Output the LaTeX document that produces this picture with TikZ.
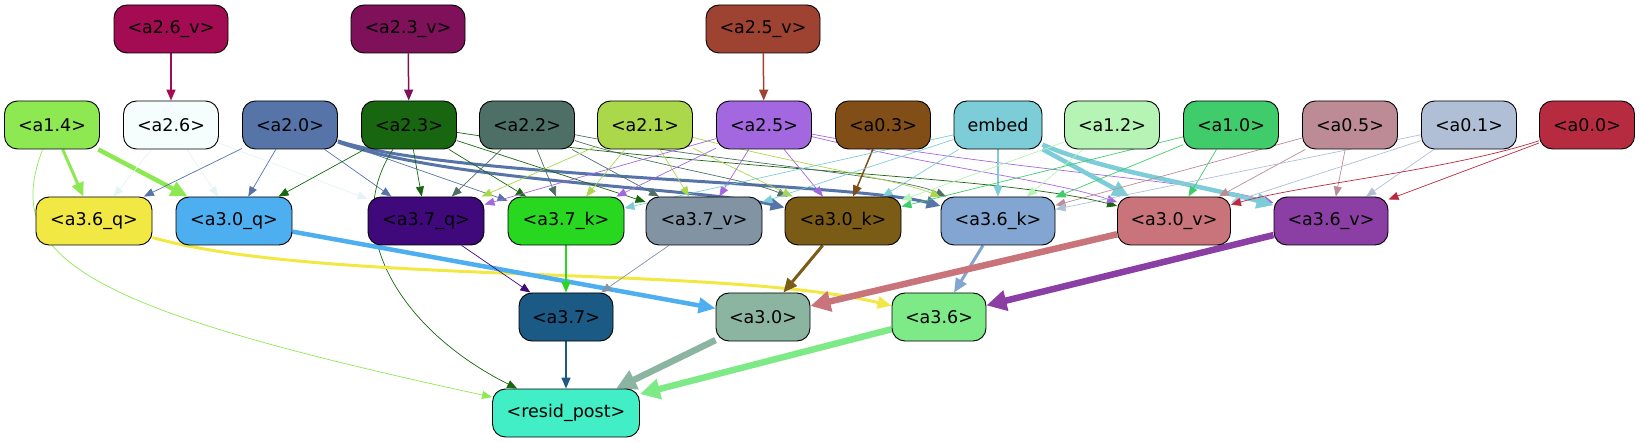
\documentclass[tikz,border=0pt]{standalone}
\usepackage{fontspec}
\setmainfont{DejaVu Sans}
\usetikzlibrary{arrows.meta,backgrounds}
\definecolor{c26v}{HTML}{A30B52}
\definecolor{c23v}{HTML}{7E1159}
\definecolor{c25v}{HTML}{9E4232}
\definecolor{c14}{HTML}{8EE851}
\definecolor{c26}{HTML}{F5FDFD}
\definecolor{c26e}{HTML}{E4F4F4}
\definecolor{c20}{HTML}{5674A8}
\definecolor{c23}{HTML}{196610}
\definecolor{c22}{HTML}{4D6F66}
\definecolor{c21}{HTML}{ABD74A}
\definecolor{c25}{HTML}{A368E0}
\definecolor{c03}{HTML}{814E17}
\definecolor{cemb}{HTML}{7CCDD7}
\definecolor{c12}{HTML}{B5F4B5}
\definecolor{c10}{HTML}{40CC6A}
\definecolor{c05}{HTML}{BD8B95}
\definecolor{c01}{HTML}{B0BFD6}
\definecolor{c00}{HTML}{B72B40}
\definecolor{c36q}{HTML}{F2E844}
\definecolor{c30q}{HTML}{4DAFF0}
\definecolor{c37q}{HTML}{3F097C}
\definecolor{c37k}{HTML}{28D820}
\definecolor{c37v}{HTML}{8293A3}
\definecolor{c30k}{HTML}{7B5C16}
\definecolor{c36k}{HTML}{82A5D2}
\definecolor{c30v}{HTML}{C8747A}
\definecolor{c36v}{HTML}{8B3FA4}
\definecolor{c37}{HTML}{1B5A84}
\definecolor{c30}{HTML}{8BB5A1}
\definecolor{c36}{HTML}{7EEA87}
\definecolor{cres}{HTML}{42EEC6}
\tikzset{
  nd/.style={draw=black, line width=0.9pt, rounded corners=13pt, minimum height=48pt, inner sep=0pt, font=\fontsize{17.5}{20}\selectfont, text=black},
  wa/.style={nd, minimum width=114pt},
  wb/.style={nd, minimum width=95pt},
  wc/.style={nd, minimum width=116pt},
  wd/.style={nd, minimum width=94pt},
  ethin/.style={line width=0.7pt, -{Triangle[length=10pt,width=8pt]}},
  emid/.style={line width=1.5pt, -{Triangle[length=11pt,width=9pt]}},
  ethick/.style={line width=3pt, -{Triangle[length=14pt,width=12pt]}},
  evthick/.style={line width=4.5pt, -{Triangle[length=17pt,width=15pt]}},
  eheavy/.style={line width=6.5pt, -{Triangle[length=20pt,width=20pt]}}
}
\begin{document}
\begin{tikzpicture}[x=1pt,y=-1pt]
\useasboundingbox (0,0) rectangle (1640,443);
% row 0
\node[wa, fill=c26v] (a26v) at (171,29) {<a2.6\_v>};
\node[wa, fill=c23v] (a23v) at (408,29) {<a2.3\_v>};
\node[wa, fill=c25v] (a25v) at (763,29) {<a2.5\_v>};
% row 1
\node[wb, fill=c14] (a14) at (52,125) {<a1.4>};
\node[wb, fill=c26] (a26) at (171,125) {<a2.6>};
\node[wb, fill=c20] (a20) at (290,125) {<a2.0>};
\node[wb, fill=c23] (a23) at (409,125) {<a2.3>};
\node[wb, fill=c22] (a22) at (527,125) {<a2.2>};
\node[wb, fill=c21] (a21) at (645,125) {<a2.1>};
\node[wb, fill=c25] (a25) at (764,125) {<a2.5>};
\node[wb, fill=c03] (a03) at (883,125) {<a0.3>};
\node[nd, minimum width=88pt, fill=cemb] (emb) at (998,125) {embed};
\node[wb, fill=c12] (a12) at (1112,125) {<a1.2>};
\node[wb, fill=c10] (a10) at (1231,125) {<a1.0>};
\node[wb, fill=c05] (a05) at (1350,125) {<a0.5>};
\node[wb, fill=c01] (a01) at (1469,125) {<a0.1>};
\node[wb, fill=c00] (a00) at (1587,125) {<a0.0>};
% row 2
\node[wc, fill=c36q] (a36q) at (94,221) {<a3.6\_q>};
\node[wc, fill=c30q] (a30q) at (234,221) {<a3.0\_q>};
\node[wc, fill=c37q] (a37q) at (426,221) {<a3.7\_q>};
\node[wc, fill=c37k] (a37k) at (566,221) {<a3.7\_k>};
\node[wc, fill=c37v] (a37v) at (704,221) {<a3.7\_v>};
\node[wc, fill=c30k] (a30k) at (843,221) {<a3.0\_k>};
\node[nd, minimum width=114pt, fill=c36k] (a36k) at (998,221) {<a3.6\_k>};
\node[nd, minimum width=113pt, fill=c30v] (a30v) at (1174,221) {<a3.0\_v>};
\node[nd, minimum width=114pt, fill=c36v] (a36v) at (1331,221) {<a3.6\_v>};
% row 3
\node[wd, fill=c37] (a37) at (566,317) {<a3.7>};
\node[wd, fill=c30] (a30) at (763,317) {<a3.0>};
\node[wd, fill=c36] (a36) at (939,317) {<a3.6>};
% row 4
\node[nd, minimum width=147pt, fill=cres] (res) at (566,413) {<resid\_post>};

\begin{scope}[on background layer]
% top
\draw[emid, c26v] (a26v) -- (a26);
\draw[emid, c23v] (a23v) -- (a23);
\draw[emid, c25v] (a25v) -- (a25);
% a1.4
\draw[ethick, c14] (a14) -- (a36q);
\draw[evthick, c14] (a14) -- (a30q);
\draw[ethin, c14] (a14) .. controls (0,260) and (90,310) .. (res);
% a2.6
\draw[ethin, c26e] (a26) -- (a36q);
\draw[ethin, c26e] (a26) -- (a30q);
\draw[ethin, c26e] (a26) -- (a37q);
% a2.0
\draw[ethin, c20] (a20) -- (a36q);
\draw[ethin, c20] (a20) -- (a30q);
\draw[ethin, c20] (a20) -- (a37q);
\draw[ethin, c20] (a20) -- (a37k);
\draw[ethick, c20] (a20) .. controls (450,182) and (700,188) .. (a30k);
\draw[ethick, c20] (a20) .. controls (450,178) and (850,182) .. (a36k);
% a2.3
\draw[ethin, c23] (a23) -- (a30q);
\draw[ethin, c23] (a23) -- (a37q);
\draw[ethin, c23] (a23) -- (a37k);
\draw[ethin, c23] (a23) -- (a37v);
\draw[ethin, c23] (a23) .. controls (700,170) and (1000,175) .. (a30v);
\draw[ethin, c23] (a23) .. controls (340,230) and (400,330) .. (res);
% a2.2
\draw[ethin, c22] (a22) -- (a37q);
\draw[ethin, c22] (a22) -- (a37k);
\draw[ethin, c22] (a22) -- (a37v);
\draw[ethin, c22] (a22) .. controls (650,165) and (750,180) .. (a30k);
\draw[ethin, c22] (a22) .. controls (700,160) and (900,175) .. (a36k);
% a2.1
\draw[ethin, c21] (a21) -- (a37q);
\draw[ethin, c21] (a21) -- (a37k);
\draw[ethin, c21] (a21) -- (a37v);
\draw[ethin, c21] (a21) -- (a30k);
\draw[ethin, c21] (a21) .. controls (800,165) and (900,180) .. (a36k);
% a2.5
\draw[ethin, c25] (a25) -- (a37q);
\draw[ethin, c25] (a25) -- (a37k);
\draw[ethin, c25] (a25) -- (a37v);
\draw[ethin, c25] (a25) -- (a30k);
\draw[ethin, c25] (a25) .. controls (950,170) and (1050,180) .. (a30v);
\draw[ethin, c25] (a25) .. controls (1000,170) and (1200,180) .. (a36v);
% a0.3
\draw[emid, c03] (a03) -- (a30k);
% embed
\draw[ethin, cemb] (emb) -- (a37k);
\draw[ethin, cemb] (emb) -- (a37v);
\draw[ethin, cemb] (emb) -- (a30k);
\draw[emid, cemb] (emb) -- (a36k);
\draw[evthick, cemb] (emb) -- (a30v);
\draw[evthick, cemb] (emb) .. controls (1100,170) and (1200,185) .. (a36v);
% a1.2
\draw[ethin, c12] (a12) -- (a30k);
\draw[ethin, c12] (a12) -- (a36k);
% a1.0
\draw[ethin, c10] (a10) -- (a30k);
\draw[ethin, c10] (a10) -- (a36k);
\draw[ethin, c10] (a10) -- (a30v);
% a0.5
\draw[ethin, c05] (a05) -- (a36k);
\draw[ethin, c05] (a05) -- (a30v);
\draw[ethin, c05] (a05) -- (a36v);
% a0.1
\draw[ethin, c01] (a01) -- (a36k);
\draw[ethin, c01] (a01) -- (a30v);
\draw[ethin, c01] (a01) -- (a36v);
% a0.0
\draw[ethin, c00] (a00) .. controls (1450,170) and (1300,185) .. (a30v);
\draw[ethin, c00] (a00) -- (a36v);
% row 2 -> row 3
\draw[ethick, c36q] (a36q) .. controls (320,285) and (720,265) .. (a36);
\draw[evthick, c30q] (a30q) -- (a30);
\draw[ethin, c37q] (a37q) -- (a37);
\draw[emid, c37k] (a37k) -- (a37);
\draw[ethin, c37v] (a37v) -- (a37);
\draw[ethick, c30k] (a30k) -- (a30);
\draw[ethick, c36k] (a36k) -- (a36);
\draw[eheavy, c30v] (a30v) -- (a30);
\draw[eheavy, c36v] (a36v) -- (a36);
% row 3 -> resid
\draw[emid, c37] (a37) -- (res);
\draw[eheavy, c30] (a30) -- (res);
\draw[eheavy, c36] (a36) -- (res);
\end{scope}
\end{tikzpicture}
\end{document}
